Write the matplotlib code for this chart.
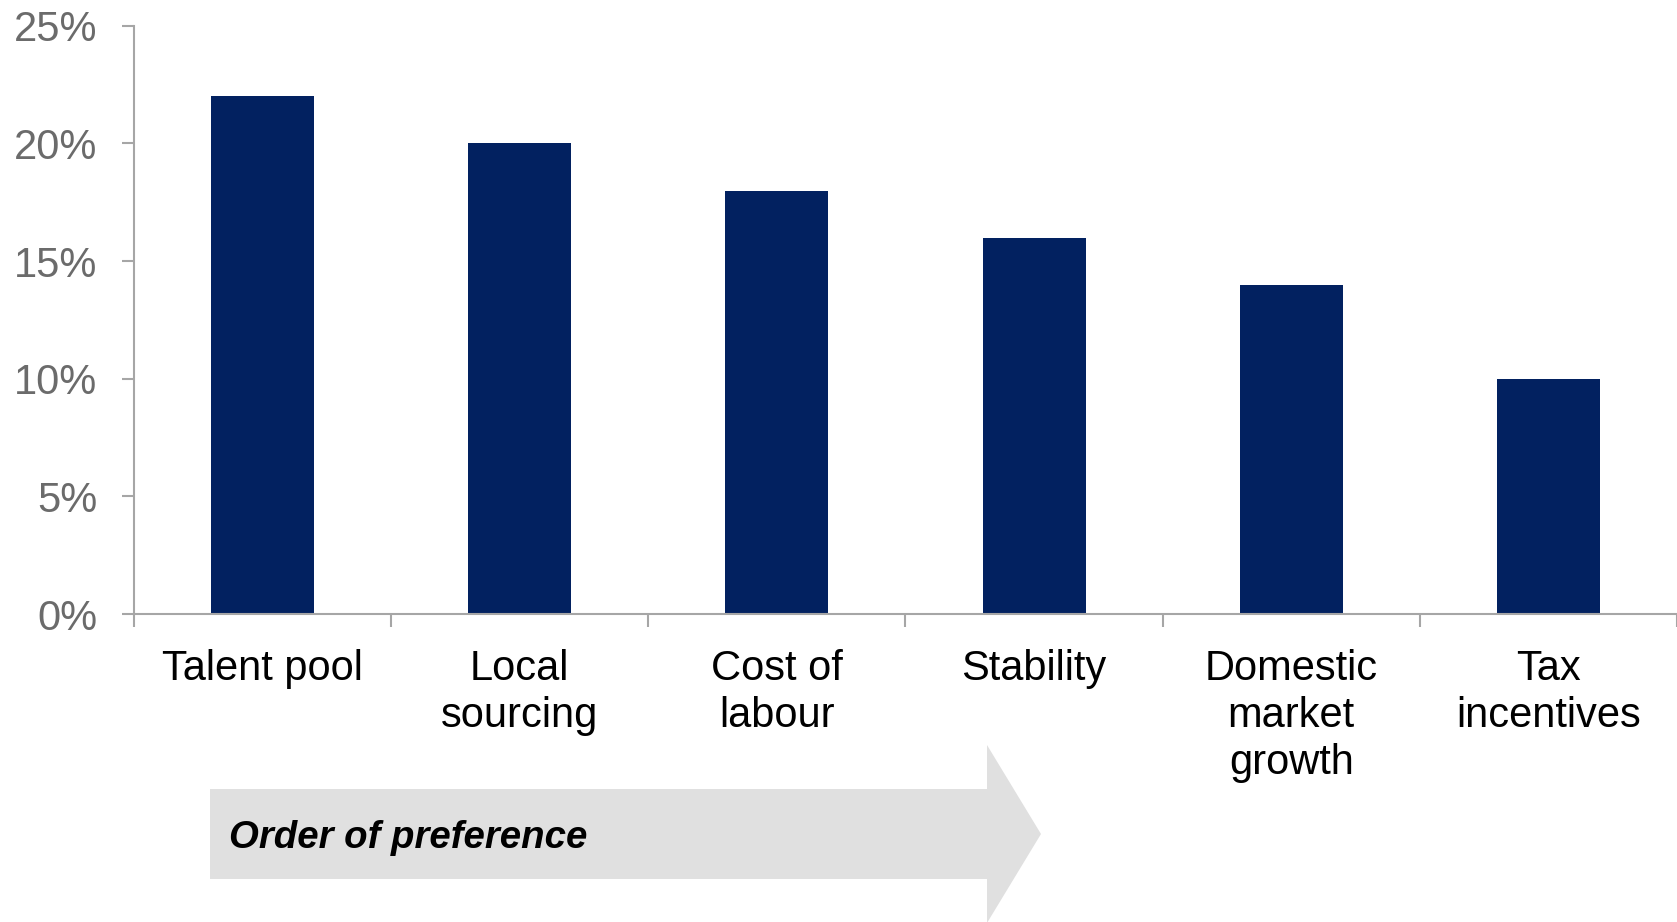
import matplotlib.pyplot as plt
from matplotlib.patches import Polygon
from matplotlib.ticker import FuncFormatter

plt.rcParams["font.family"] = ["Liberation Sans", "DejaVu Sans"]

# Share of respondents citing each location factor
factors = ["Talent pool", "Local\nsourcing", "Cost of\nlabour", "Stability",
           "Domestic\nmarket\ngrowth", "Tax\nincentives"]
shares = [22, 20, 18, 16, 14, 10]
y_ticks = [0, 5, 10, 15, 20, 25]

BAR_COLOR = "#022160"
AXIS_COLOR = "#a6a6a6"

fig = plt.figure(figsize=(16.77, 9.22), dpi=100)
ax = fig.add_axes([0.0799, 0.334, 0.9201, 0.638])

positions = range(len(factors))
ax.bar(positions, shares, width=0.4, color=BAR_COLOR, zorder=2)

ax.set_xlim(-0.5, len(factors) - 0.5)
ax.set_ylim(0, 25)

# Category labels sit between boundary ticks
ax.set_xticks(list(positions))
ax.set_xticklabels(factors, fontsize=30, color="black", linespacing=1.23,
                   va="top")
ax.set_xticks([p - 0.5 for p in range(len(factors) + 1)], minor=True)
ax.tick_params(axis="x", which="major", length=0, pad=25)
ax.tick_params(axis="x", which="minor", length=9.5, width=1.5,
               color=AXIS_COLOR)

ax.set_yticks(y_ticks)
ax.yaxis.set_major_formatter(FuncFormatter(lambda v, _: f"{v:.0f}%"))
ax.tick_params(axis="y", length=8.5, width=1.5, color=AXIS_COLOR,
               labelsize=30, labelcolor="#6b6b6b", pad=18)

for side in ("top", "right"):
    ax.spines[side].set_visible(False)
for side in ("left", "bottom"):
    ax.spines[side].set_color(AXIS_COLOR)
    ax.spines[side].set_linewidth(1.5)

# Grey arrow showing preference order (pixel coordinates)
W, H = 1677, 922
arrow_px = [(210, 789), (987, 789), (987, 745), (1041, 834),
            (987, 923), (987, 879), (210, 879)]
arrow = Polygon([(x / W, 1 - y / H) for x, y in arrow_px],
                closed=True, transform=fig.transFigure,
                facecolor="#e0e0e0", edgecolor="none")
fig.patches.append(arrow)
fig.text(229 / W, 1 - 838 / H, "Order of preference", fontsize=27.6,
         fontweight="bold", fontstyle="italic", color="black",
         va="center", ha="left")

fig.savefig("out.png", dpi=100)
plt.close(fig)
